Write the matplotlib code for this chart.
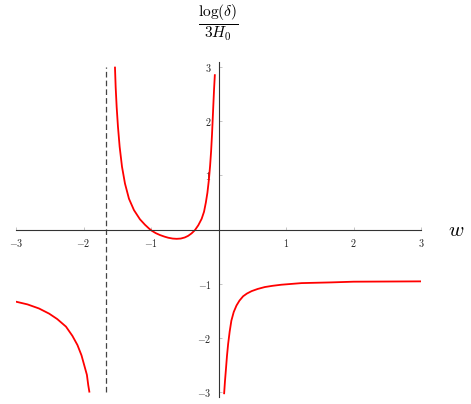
import numpy as np
import matplotlib.pyplot as plt
from matplotlib.ticker import FuncFormatter

plt.rcParams['mathtext.fontset'] = 'cm'

# values
left_w = [-3.0, -2.83, -2.66, -2.51, -2.39, -2.26, -2.165, -2.09, -2.03, -1.99, -1.95, -1.93, -1.914]
left_y = [-1.33, -1.38, -1.455, -1.55, -1.65, -1.79, -1.96, -2.13, -2.32, -2.50, -2.68, -2.87, -2.99]

mid_w = [-1.534, -1.524, -1.509, -1.49, -1.465, -1.43, -1.386, -1.327, -1.253, -1.164,
         -1.09, -1.03, -0.99, -0.93, -0.868, -0.80, -0.745, -0.68, -0.62, -0.56,
         -0.50, -0.45, -0.40, -0.35, -0.30, -0.25, -0.215, -0.188, -0.165, -0.143,
         -0.125, -0.11, -0.097, -0.086, -0.076, -0.066, -0.055]
mid_y = [2.99, 2.63, 2.26, 1.90, 1.53, 1.16, 0.85, 0.57, 0.36, 0.19,
         0.09, 0.02, -0.02, -0.065, -0.10, -0.13, -0.15, -0.165, -0.17, -0.165,
         -0.145, -0.115, -0.07, -0.01, 0.08, 0.2, 0.33, 0.5, 0.68, 0.92,
         1.18, 1.45, 1.75, 2.05, 2.33, 2.6, 2.85]

right_w = [0.083, 0.095, 0.108, 0.125, 0.142, 0.165, 0.19, 0.225, 0.266, 0.31, 0.364,
           0.42, 0.49, 0.58, 0.685, 0.8, 0.93, 1.23, 1.67, 2.0, 2.5, 3.0]
right_y = [-3.02, -2.8, -2.6, -2.33, -2.11, -1.88, -1.68, -1.52, -1.40, -1.31, -1.23,
           -1.18, -1.135, -1.095, -1.06, -1.037, -1.017, -0.987, -0.974, -0.961, -0.958, -0.955]

asym_w = -5 / 3
ticks = [-3, -2, -1, 1, 2, 3]

fig = plt.figure(figsize=(4.71, 4.04), dpi=100)
ax = fig.add_axes([0.034, 0.0185, 0.860, 0.829])

# axes through the origin
for side in ['top', 'right']:
    ax.spines[side].set_visible(False)
ax.spines['left'].set_position(('data', 0))
ax.spines['bottom'].set_position(('data', 0))
for side in ['left', 'bottom']:
    ax.spines[side].set_color('#333333')
    ax.spines[side].set_linewidth(0.8)

ax.vlines(asym_w, -3, 3, colors='#444444', linestyles=(0, (4.5, 2.5)), linewidth=0.9)

for w, y in [(left_w, left_y), (mid_w, mid_y), (right_w, right_y)]:
    ax.plot(w, y, color='red', linewidth=1.3, solid_joinstyle='round')

ax.set_xlim(-3, 3)
ax.set_ylim(-3.08, 3.1)
ax.set_xticks(ticks)
ax.set_yticks(ticks)
fmt = FuncFormatter(lambda v, pos: r'$%d$' % v)
ax.xaxis.set_major_formatter(fmt)
ax.yaxis.set_major_formatter(fmt)
ax.tick_params(direction='in', length=2.5, width=0.6, color='#bbbbbb',
               labelsize=7.2, labelcolor='#222222', pad=5)

ax.text(3.52, 0.0, r'$w$', fontsize=15, ha='center', va='center')
ax.text(0.0, 3.81, r'$\frac{\log(\delta)}{3H_0}$', fontsize=16, ha='center', va='center')

fig.savefig('out.png', dpi=100)
